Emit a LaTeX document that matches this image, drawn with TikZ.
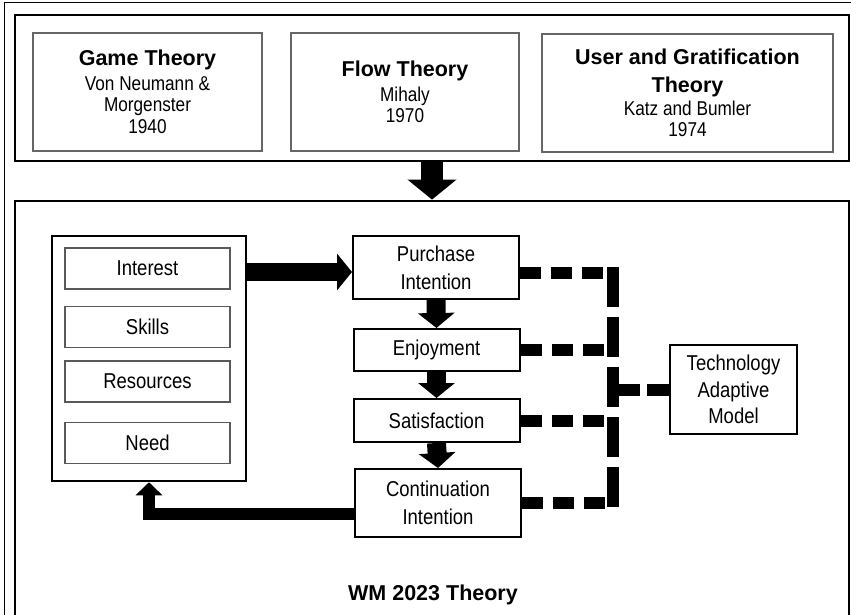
\documentclass[tikz,border=0pt]{standalone}
\usepackage{fontspec}
\setmainfont{Liberation Sans}
\newfontfamily\narrowfont{Liberation Sans}[FakeStretch=0.86]
\usetikzlibrary{arrows.meta,positioning}

\begin{document}
\begin{tikzpicture}[x=1pt,y=-1pt,
    frame/.style={draw,line width=2.8pt,inner sep=0pt},
    theory/.style={draw=black!60,line width=1.2pt,align=center,inner sep=0pt,
      minimum height=118pt,font=\narrowfont\fontsize{20}{21.5}\selectfont},
    factor/.style={draw=black!65,line width=1.2pt,minimum width=165pt,
      minimum height=41pt,inner sep=0pt,font=\narrowfont\fontsize{21.5}{28}\selectfont},
    stage/.style={draw,line width=2pt,minimum width=166pt,align=center,
      inner sep=0pt,font=\narrowfont\fontsize{21.5}{28}\selectfont},
    headfont/.style={font=\rmfamily\bfseries\fontsize{21.5}{26}\selectfont},
    bigarrow/.style={line width=22pt,-{Triangle[width=48pt,length=20pt]}},
    sidearrow/.style={line width=18pt,-{Triangle[width=36pt,length=15pt]}},
    flowarrow/.style={line width=19pt,-{Triangle[width=36pt,length=15pt]}},
    backarrow/.style={line width=12pt,-{Triangle[width=26pt,length=13pt]}},
    tamlink/.style={line width=12pt,dash pattern=on 21pt off 10pt}]
  \useasboundingbox (0,0) rectangle (851,615);
  \clip (0,0) rectangle (851,615);
  \draw[line width=1pt] (4,3) rectangle (860,660);

  % theories on top
  \node[frame,minimum width=834pt,minimum height=146pt] (topframe) at (432,88) {};
  \node[theory,minimum width=229pt] (game) at (147.5,92)
    {{\rmfamily\bfseries\fontsize{21.5}{26}\selectfont Game Theory}\\[3pt]
     Von Neumann \&\\ Morgenster\\ 1940};
  \node[theory,minimum width=228pt] (flow) at (405,92)
    {{\rmfamily\bfseries\fontsize{21.5}{26}\selectfont Flow Theory}\\[3pt]
     Mihaly\\ 1970};
  \node[theory,minimum width=291pt] (ugt) at (687.5,93)
    {{\rmfamily\bfseries\fontsize{21.5}{26}\selectfont User and Gratification}\\[7pt]
     {\rmfamily\bfseries\fontsize{21.5}{26}\selectfont Theory}\\[1pt]
     Katz and Bumler\\ 1974};

  % WM 2023 model
  \node[frame,minimum width=834pt,minimum height=449pt] (wmframe) at (432,425.5) {};
  \draw[bigarrow] (topframe.south -| 432,0) -- (wmframe.north -| 432,0);

  \node[draw,line width=2.5pt,minimum width=194pt,minimum height=245pt] (group) at (149,358.5) {};
  \node[factor] (interest) at (147.5,268.5) {Interest};
  \node[factor] (skills) at (147.5,327) {Skills};
  \node[factor] (resources) at (147.5,381.5) {Resources};
  \node[factor] (need) at (147.5,443) {Need};

  \node[stage,minimum height=63pt] (purchase) at (436,267.5) {Purchase\\ Intention};
  \node[stage,minimum height=42pt] (enjoy) at (436.5,350) {Enjoyment};
  \node[stage,minimum height=43pt] (satis) at (436.5,420.5) {Satisfaction};
  \node[stage,minimum height=68pt] (cont) at (438,503) {Continuation\\ Intention};
  \node[stage,minimum width=127pt,minimum height=89pt] (tam) at (733.5,389.5)
    {Technology\\[-1.5pt] Adaptive\\[-1.5pt] Model};

  \coordinate (pin) at ([yshift=-4.5pt]purchase.west);
  \draw[sidearrow] (pin -| group.east) -- (pin);
  \draw[flowarrow] (purchase.south) -- (enjoy.north);
  \draw[flowarrow] (enjoy.south) -- (satis.north);
  \draw[flowarrow] (satis.south) -- (cont.north);
  \draw[backarrow] ([yshift=-11pt]cont.west) -| (group.south);

  % dashed links to TAM
  \coordinate (bustop) at (613,267);
  \coordinate (busbot) at (613,509);
  \coordinate (ptap) at ([yshift=-5.5pt]purchase.east);
  \draw[tamlink] (ptap) -- (ptap -| bustop);
  \draw[tamlink] (enjoy.east) -- (enjoy.east -| bustop);
  \draw[tamlink] (satis.east) -- (satis.east -| bustop);
  \draw[tamlink] (cont.east) -- (cont.east -| bustop);
  \draw[tamlink,dash pattern=on 40pt off 10pt] (bustop) -- (busbot);
  \draw[tamlink,dash pattern=on 22pt off 7pt] (tam.west) -- (tam.west -| bustop);

  \node[headfont,anchor=base] (wmtitle) at (433,600) {WM 2023 Theory};
\end{tikzpicture}
\end{document}
